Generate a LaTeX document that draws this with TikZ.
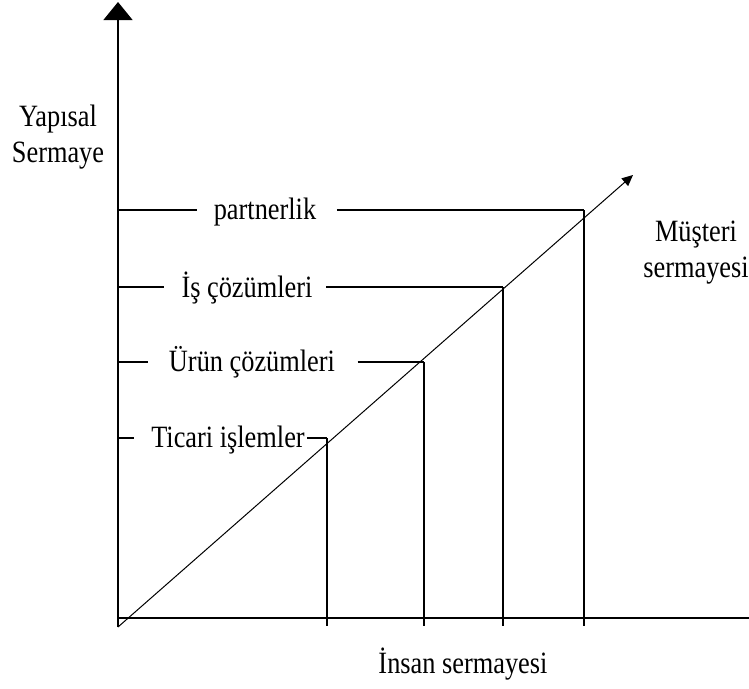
\documentclass[tikz,border=0pt]{standalone}
\usepackage{fontspec}
\setmainfont{Liberation Serif}[FakeStretch=0.85]
\usetikzlibrary{arrows.meta}
\begin{document}
\begin{tikzpicture}[x=1pt,y=-1pt,line width=1.3pt,
  lbl/.style={font=\fontsize{31}{36}\selectfont,inner sep=0pt,anchor=base,align=center}]
\useasboundingbox (0,0) rectangle (749,688);
% axes
\coordinate (O) at (118,627);
\coordinate (Ytip) at (118,2);
\coordinate (Xl) at (118,618);
\coordinate (Xr) at (749,618);
\coordinate (Dtip) at (633,175);
\draw[-{Triangle[width=29pt,length=18pt]}] (O) -- (Ytip);
\draw (Xl) -- (Xr);
\draw[line width=1pt,-{Triangle[width=10pt,length=11pt]}] (O) -- (Dtip);
% axis labels (base = last line)
\node[lbl] (ylab) at (58,162) {Yapısal\\Sermaye};
\node[lbl] (mlab) at (696,277) {Müşteri\\sermayesi};
\node[lbl] (xlab) at (463,673) {İnsan sermayesi};
% level labels
\node[lbl] (p) at (265,219) {partnerlik};
\node[lbl] (is) at (247,297) {İş çözümleri};
\node[lbl] (ur) at (252,371) {Ürün çözümleri};
\node[lbl] (ti) at (228,447) {Ticari işlemler};
% gap points beside labels
\coordinate (pL) at ([xshift=-16pt]p.west);
\coordinate (pR) at ([xshift=20pt]p.east);
\coordinate (isL) at ([xshift=-17pt]is.west);
\coordinate (isR) at ([xshift=13pt]is.east);
\coordinate (urL) at ([xshift=-20pt]ur.west);
\coordinate (urR) at ([xshift=22pt]ur.east);
\coordinate (tiL) at ([xshift=-17pt]ti.west);
\coordinate (tiR) at ([xshift=2pt]ti.east);
% axis points
\coordinate (a1) at (118,210);
\coordinate (a2) at (118,287);
\coordinate (a3) at (118,362);
\coordinate (a4) at (118,438);
% corner points
\coordinate (c1) at (584,210);
\coordinate (c2) at (503,287);
\coordinate (c3) at (424,362);
\coordinate (c4) at (327,438);
\coordinate (b1) at (584,626);
\coordinate (b2) at (503,626);
\coordinate (b3) at (424,626);
\coordinate (b4) at (327,626);
% horizontal connectors
\draw (a1) -- (a1 -| pL);
\draw (c1 -| pR) -- (c1);
\draw (a2) -- (a2 -| isL);
\draw (c2 -| isR) -- (c2);
\draw (a3) -- (a3 -| urL);
\draw (c3 -| urR) -- (c3);
\draw (a4) -- (a4 -| tiL);
\draw (c4 -| tiR) -- (c4);
% vertical connectors
\draw (c1) -- (b1);
\draw (c2) -- (b2);
\draw (c3) -- (b3);
\draw (c4) -- (b4);
\end{tikzpicture}
\end{document}
